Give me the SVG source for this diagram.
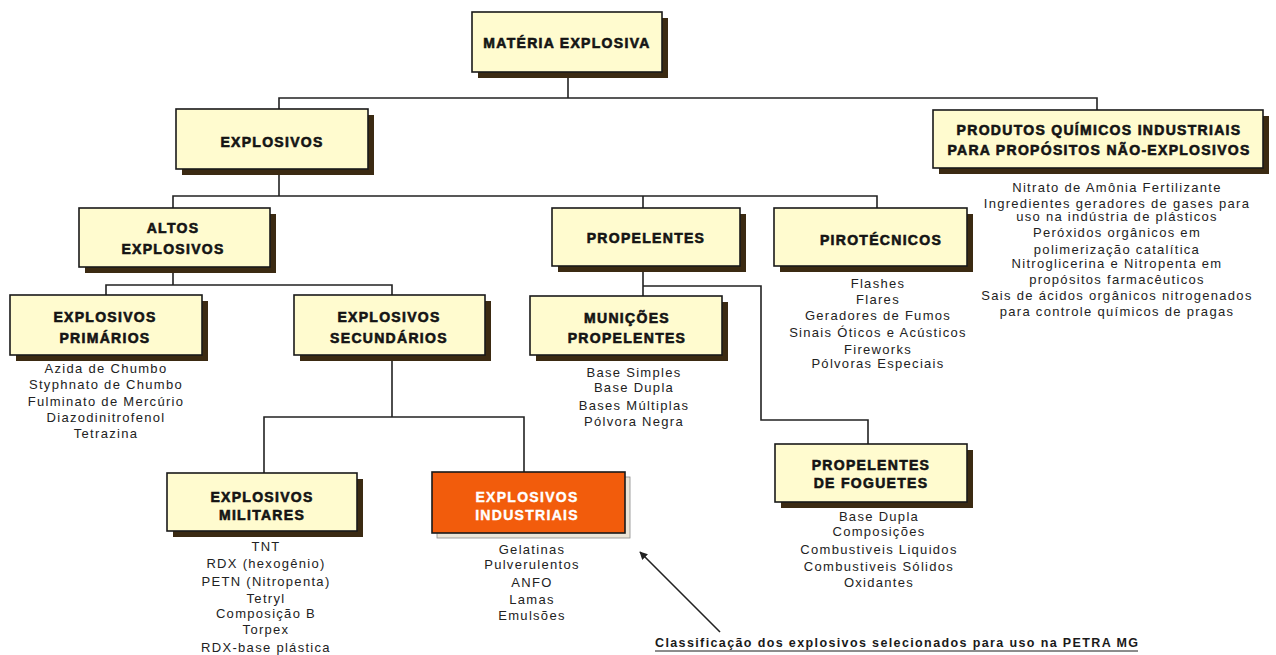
<svg xmlns="http://www.w3.org/2000/svg" width="1276" height="655" viewBox="0 0 1276 655">
<style>
.sh{fill:#3b2a12}
.bx{fill:#fffbcf;stroke:#1a1a1a;stroke-width:1.6}
.t{font-family:"Liberation Sans",Arial,sans-serif;font-size:14px;font-weight:bold;fill:#141414;text-anchor:middle;letter-spacing:1.3px;stroke:#141414;stroke-width:0.6}
.tw{fill:#ffffff;stroke:#ffffff;stroke-width:0.4}
.l{font-family:"Liberation Sans",Arial,sans-serif;font-size:13px;fill:#222;text-anchor:middle;letter-spacing:1.3px}
.c{fill:none;stroke:#222;stroke-width:1.6}
</style>
<defs>
<marker id="ah" viewBox="0 0 10 10" refX="9" refY="5" markerWidth="8" markerHeight="8" orient="auto" markerUnits="userSpaceOnUse">
<path d="M0,0 L10,5 L0,10 z" fill="#222"/>
</marker>
</defs>
<rect width="1276" height="655" fill="#ffffff"/>
<g id="connectors">
<path class="c" d="M568,72V98M279,109V98H1097V110"/>
<path class="c" d="M279,169V196M173,208V196H877V208M643,196V208"/>
<path class="c" d="M173,267V285M106,295V285H392V295"/>
<path class="c" d="M392,355V417M264,473V417H524V472"/>
<path class="c" d="M643,266V296M643,286H761V420H868V444"/>
<line x1="720" y1="632" x2="640" y2="552" stroke="#222" stroke-width="1.6" marker-end="url(#ah)"/>
</g>
<g id="n-materia">
<rect class="sh" x="478" y="18" width="190" height="60"/>
<rect class="bx" x="472" y="12" width="190" height="60"/>
<text class="t" x="567" y="48">MATÉRIA EXPLOSIVA</text>
</g>
<g id="n-explosivos">
<rect class="sh" x="182" y="115" width="192" height="60"/>
<rect class="bx" x="176" y="109" width="192" height="60"/>
<text class="t" x="272" y="147">EXPLOSIVOS</text>
</g>
<g id="n-produtos">
<rect class="sh" x="939" y="116" width="330" height="58"/>
<rect class="bx" x="933" y="110" width="330" height="58"/>
<text class="t" x="1099" y="135">PRODUTOS QUÍMICOS INDUSTRIAIS</text>
<text class="t" x="1099" y="155">PARA PROPÓSITOS NÃO-EXPLOSIVOS</text>
<text class="l" x="1117" y="192">Nitrato de Amônia Fertilizante</text>
<text class="l" x="1117" y="208">Ingredientes geradores de gases para</text>
<text class="l" x="1117" y="221">uso na indústria de plásticos</text>
<text class="l" x="1117" y="237">Peróxidos orgânicos em</text>
<text class="l" x="1117" y="254">polimerização catalítica</text>
<text class="l" x="1117" y="268">Nitroglicerina e Nitropenta em</text>
<text class="l" x="1117" y="284">propósitos farmacêuticos</text>
<text class="l" x="1117" y="300">Sais de ácidos orgânicos nitrogenados</text>
<text class="l" x="1117" y="316">para controle químicos de pragas</text>
</g>
<g id="n-altos">
<rect class="sh" x="85" y="214" width="191" height="59"/>
<rect class="bx" x="79" y="208" width="191" height="59"/>
<text class="t" x="173" y="233">ALTOS</text>
<text class="t" x="173" y="254">EXPLOSIVOS</text>
</g>
<g id="n-propelentes">
<rect class="sh" x="558" y="214" width="188" height="58"/>
<rect class="bx" x="552" y="208" width="188" height="58"/>
<text class="t" x="646" y="243">PROPELENTES</text>
</g>
<g id="n-pirotecnicos">
<rect class="sh" x="780" y="214" width="193" height="58"/>
<rect class="bx" x="774" y="208" width="193" height="58"/>
<text class="t" x="881" y="245">PIROTÉCNICOS</text>
<text class="l" x="878" y="288">Flashes</text>
<text class="l" x="878" y="304">Flares</text>
<text class="l" x="878" y="320">Geradores de Fumos</text>
<text class="l" x="878" y="337">Sinais Óticos e Acústicos</text>
<text class="l" x="878" y="354">Fireworks</text>
<text class="l" x="878" y="368">Pólvoras Especiais</text>
</g>
<g id="n-primarios">
<rect class="sh" x="16" y="301" width="192" height="60"/>
<rect class="bx" x="10" y="295" width="192" height="60"/>
<text class="t" x="105" y="322">EXPLOSIVOS</text>
<text class="t" x="105" y="343">PRIMÁRIOS</text>
<text class="l" x="106" y="373">Azida de Chumbo</text>
<text class="l" x="106" y="389">Styphnato de Chumbo</text>
<text class="l" x="106" y="406">Fulminato de Mercúrio</text>
<text class="l" x="106" y="422">Diazodinitrofenol</text>
<text class="l" x="106" y="438">Tetrazina</text>
</g>
<g id="n-secundarios">
<rect class="sh" x="300" y="301" width="191" height="60"/>
<rect class="bx" x="294" y="295" width="191" height="60"/>
<text class="t" x="389" y="322">EXPLOSIVOS</text>
<text class="t" x="389" y="343">SECUNDÁRIOS</text>
</g>
<g id="n-municoes">
<rect class="sh" x="536" y="302" width="192" height="59"/>
<rect class="bx" x="530" y="296" width="192" height="59"/>
<text class="t" x="627" y="323">MUNIÇÕES</text>
<text class="t" x="627" y="343">PROPELENTES</text>
<text class="l" x="634" y="377">Base Simples</text>
<text class="l" x="634" y="392">Base Dupla</text>
<text class="l" x="634" y="410">Bases Múltiplas</text>
<text class="l" x="634" y="426">Pólvora Negra</text>
</g>
<g id="n-militares">
<rect class="sh" x="173" y="479" width="190" height="58"/>
<rect class="bx" x="167" y="473" width="190" height="58"/>
<text class="t" x="262" y="502">EXPLOSIVOS</text>
<text class="t" x="262" y="520">MILITARES</text>
<text class="l" x="266" y="551">TNT</text>
<text class="l" x="266" y="568">RDX (hexogênio)</text>
<text class="l" x="266" y="586">PETN (Nitropenta)</text>
<text class="l" x="266" y="603">Tetryl</text>
<text class="l" x="266" y="618">Composição B</text>
<text class="l" x="266" y="634">Torpex</text>
<text class="l" x="266" y="652">RDX-base plástica</text>
</g>
<g id="n-industriais">
<rect x="437" y="477" width="193" height="61" fill="#ebe5d8" stroke="#8a8a8a" stroke-width="0.8"/>
<rect x="432" y="472" width="193" height="61" fill="#f25c0c" stroke="#1a1a1a" stroke-width="1.6"/>
<text class="t tw" x="527" y="502">EXPLOSIVOS</text>
<text class="t tw" x="527" y="520">INDUSTRIAIS</text>
<text class="l" x="532" y="554">Gelatinas</text>
<text class="l" x="532" y="569">Pulverulentos</text>
<text class="l" x="532" y="587">ANFO</text>
<text class="l" x="532" y="604">Lamas</text>
<text class="l" x="532" y="620">Emulsões</text>
</g>
<g id="n-foguetes">
<rect class="sh" x="781" y="450" width="192" height="58"/>
<rect class="bx" x="775" y="444" width="192" height="58"/>
<text class="t" x="871" y="470">PROPELENTES</text>
<text class="t" x="871" y="488">DE FOGUETES</text>
<text class="l" x="879" y="521">Base Dupla</text>
<text class="l" x="879" y="536">Composições</text>
<text class="l" x="879" y="554">Combustiveis Liquidos</text>
<text class="l" x="879" y="571">Combustiveis Sólidos</text>
<text class="l" x="879" y="587">Oxidantes</text>
</g>
<g id="caption">
<text x="655" y="647" font-family="Liberation Sans, Arial, sans-serif" font-size="12.5" font-weight="bold" fill="#1a1a1a" textLength="483" lengthAdjust="spacing">Classificação dos explosivos selecionados para uso na PETRA MG</text>
<line x1="655" y1="651" x2="1138" y2="651" stroke="#1a1a1a" stroke-width="1"/>
</g>
</svg>
